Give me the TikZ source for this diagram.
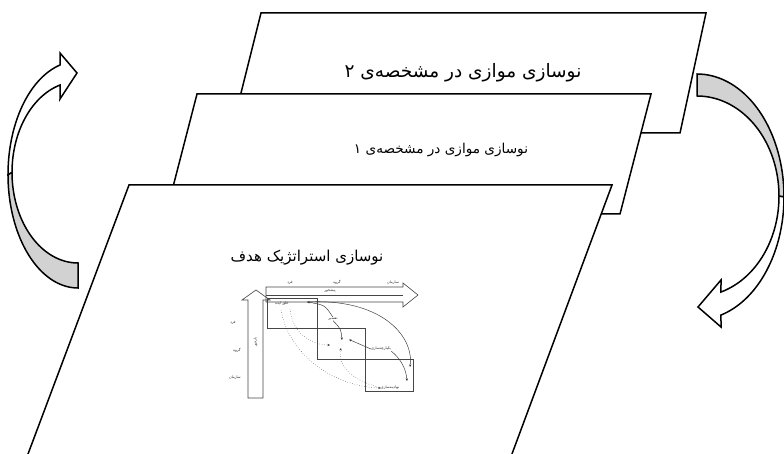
\documentclass[tikz,border=0pt]{standalone}
\usepackage{fontspec}
\newfontfamily\fa[Script=Arabic]{DejaVu Sans}
\TeXXeTstate=1
\usetikzlibrary{arrows.meta}
\begin{document}
\begin{tikzpicture}[x=1pt,y=-1pt,
  para/.style={draw=black, line width=1.5pt, fill=white, line join=miter},
  bigarrow/.style={draw=black, line width=1.5pt, line join=miter},
  title/.style={font=\fa\fontsize{#1}{#1}\selectfont, inner sep=0pt},
  mini/.style={draw=gray!55!black, line width=0.6pt},
  tinytext/.style={font=\fa\fontsize{3.6}{4}\selectfont, inner sep=0pt, text=black!85},
  flow/.style={draw=black!80, line width=0.45pt, -{Stealth[length=2.6pt,width=2.2pt]}},
  dflow/.style={flow, dotted}
]
\useasboundingbox (0,0) rectangle (784,454);
\fill[white] (0,0) rectangle (784,454);
\clip (0,0) rectangle (784,454);

% stacked parallelograms
\draw[para] (261,13) -- (706,13) -- (680,133) -- (231,133) -- cycle;
\node[title=18.5] (t2) at (463,73) {\beginR نوسازی موازی در مشخصه‌ی ۲\endR};
\draw[para] (197,94) -- (651,94) -- (620,214) -- (166,214) -- cycle;
\node[title=13.6] (t1) at (441,150) {\beginR نوسازی موازی در مشخصه‌ی ۱\endR};
\draw[para] (129,185) -- (612,185) -- (506,470) -- (22,470) -- cycle;
\node[title=15] (t0) at (307,258) {\beginR نوسازی استراتژیک هدف\endR};

% left curved arrow (points up)
\draw[bigarrow, fill=gray!35]
  plot[domain=90:180, samples=40] ({78+70*cos(\x)},{174.6+113.4*sin(\x)})
  -- plot[domain=180:90, samples=40] ({78+66*cos(\x)},{172.3+90.7*sin(\x)}) -- cycle;
\draw[bigarrow, fill=white]
  plot[domain=180:255.1, samples=40] ({78+70*cos(\x)},{174.6+113.4*sin(\x)})
  -- (60,53) -- (77,73) -- (60,99)
  -- plot[domain=254.2:180, samples=40] ({78+66*cos(\x)},{172.3+90.7*sin(\x)}) -- cycle;

% right curved arrow (points down)
\draw[bigarrow, fill=gray!35]
  plot[domain=270:360, samples=40] ({697+87*cos(\x)},{196.9+122.9*sin(\x)})
  -- plot[domain=360:270, samples=40] ({697+82*cos(\x)},{196.2+100.2*sin(\x)}) -- cycle;
\draw[bigarrow, fill=white]
  plot[domain=360:434.0, samples=40] ({697+87*cos(\x)},{196.9+122.9*sin(\x)})
  -- (721,327) -- (698,307) -- (721,280)
  -- plot[domain=433.0:360, samples=40] ({697+82*cos(\x)},{196.2+100.2*sin(\x)}) -- cycle;

% embedded small diagram
\draw[mini] (266,287) -- (403,287) -- (403,283) -- (418,295) -- (403,307) -- (403,302) -- (266,302) -- cycle;
\draw[mini] (266,295) -- (403,295);
\node[tinytext] (ff) at (330,291) {\beginR پیشخور\endR};
\node[tinytext] (h1) at (290,283) {\beginR فرد\endR};
\node[tinytext] (h2) at (337,282) {\beginR گروه\endR};
\node[tinytext] (h3) at (393,283) {\beginR سازمان\endR};

\draw[mini] (248,398) -- (248,300) -- (242,300) -- (256,290) -- (270,300) -- (263,300) -- (263,398) -- cycle;
\node[tinytext, rotate=90] (fb) at (255.5,342) {\beginR بازخور\endR};
\node[tinytext] (v1) at (233,323) {\beginR فرد\endR};
\node[tinytext] (v2) at (237,350) {\beginR گروه\endR};
\node[tinytext] (v3) at (235,378) {\beginR سازمان\endR};

\draw[mini] (267,298) rectangle (317,328);
\draw[mini] (317,328) rectangle (365,359);
\draw[mini] (365,359) rectangle (413,391);

\node[tinytext] (n1) at (282,304) {\beginR خلق ایده\endR};
\node[tinytext] (n2) at (333,319) {\beginR تفسیر\endR};
\node[tinytext] (n3) at (381,349) {\beginR یکپارچه‌سازی\endR};
\node[tinytext] (n4) at (390,388) {\beginR نهادینه‌سازی\endR};

\coordinate (pA) at (307,302);
\coordinate (pC1) at (410,367);
\coordinate (pC2) at (407,381);
\coordinate (pB1) at (342,340);
\coordinate (pB2) at (341,348);
\coordinate (pD) at (330,345);

\draw[flow] (pA) .. controls (380,298) and (414,335) .. (pC1);
\draw[flow] (n2.north) .. controls (325,305) .. (pA);
\draw[dflow] (290,309) .. controls (292,332) and (310,345) .. (pD);
\draw[dflow] (281,310) .. controls (288,352) and (330,386) .. (n4.west);
\draw[flow] (n2.south) .. controls (341,329) .. (pB1);
\draw[flow] (n3.west) -- (349,339.5);
\draw[dflow] (n4.west) .. controls (345,378) and (338,362) .. (pB2);
\draw[flow] (n3.south east) .. controls (400,358) and (406,368) .. (pC2);
\end{tikzpicture}
\end{document}
